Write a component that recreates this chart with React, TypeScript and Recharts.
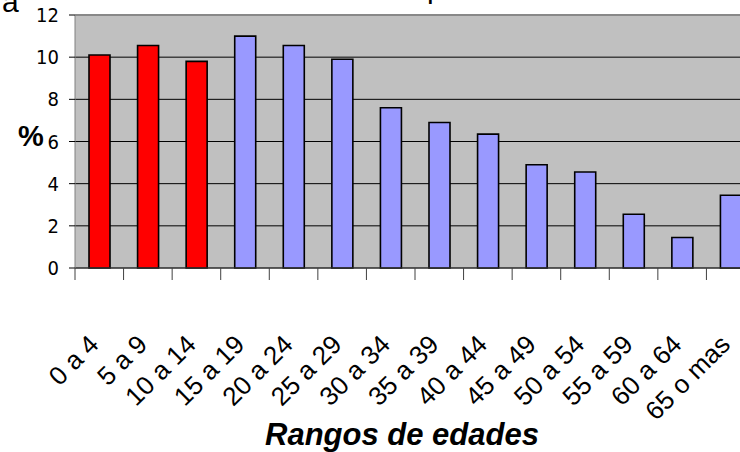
import React from 'react'
import { BarChart, Bar, Cell, XAxis, YAxis, CartesianGrid, ReferenceLine } from 'recharts'

const categories = ['0 a 4', '5 a 9', '10 a 14', '15 a 19', '20 a 24', '25 a 29', '30 a 34', '35 a 39', '40 a 44', '45 a 49', '50 a 54', '55 a 59', '60 a 64', '65 o mas']
const percentages = [10.1, 10.55, 9.8, 11.0, 10.55, 9.9, 7.6, 6.9, 6.35, 4.9, 4.55, 2.55, 1.45, 3.45]
const highlighted = ['0 a 4', '5 a 9', '10 a 14']
const yTicks = [0, 2, 4, 6, 8, 10, 12]

const data = categories.map((rango, i) => ({ rango, valor: percentages[i] }))

const CHART_W = 760
const LEFT = 75
const RIGHT = 5
const HALF_BAND = (CHART_W - LEFT - RIGHT) / categories.length / 2

const XTick = (props: any) => {
  const { x, y, payload } = props
  const half = payload && payload.offset ? payload.offset : HALF_BAND
  const ly = y + 78
  return (
    <g>
      <line x1={x - half} x2={x - half} y1={y} y2={y + 12} stroke="#404040" strokeWidth={1} />
      <text
        x={x + 1}
        y={ly}
        textAnchor="end"
        transform={`rotate(-45 ${x + 1} ${ly})`}
        fontSize={26}
        fontFamily="'Liberation Sans', Arial, sans-serif"
        fill="#000"
      >
        {payload.value}
      </text>
    </g>
  )
}

const App = () => {
  return (
    <div style={{ position: 'absolute', left: 0, top: 0, width: 740, height: 452, overflow: 'hidden', background: '#fff' }}>
      <BarChart
        width={CHART_W}
        height={452}
        data={data}
        margin={{ top: 15, right: RIGHT, left: 0, bottom: 0 }}
        barCategoryGap={0}
      >
        <CartesianGrid vertical={false} fill="#C0C0C0" stroke="#000" strokeWidth={1} />
        <ReferenceLine y={12} stroke="#888" strokeWidth={2} />
        <XAxis
          dataKey="rango"
          interval={0}
          height={184}
          stroke="#404040"
          tickLine={false}
          tickSize={0}
          tickMargin={0}
          tick={<XTick />}
          label={{
            value: 'Rangos de edades',
            position: 'insideBottom',
            offset: 7,
            dx: -13,
            style: { fontSize: 31, fontWeight: 'bold', fontStyle: 'italic', fill: '#000', fontFamily: "'Liberation Sans', Arial, sans-serif" }
          }}
        />
        <YAxis
          width={LEFT}
          domain={[0, 12]}
          ticks={yTicks}
          interval={0}
          stroke="#808080"
          tickSize={6}
          tickMargin={10}
          tickLine={{ stroke: '#000' }}
          tick={{ fontSize: 20, fill: '#000', fontFamily: "'Liberation Sans Narrow', 'DejaVu Sans Condensed', sans-serif" }}
          label={{
            value: '%',
            position: 'insideLeft',
            offset: 18,
            dy: -6,
            style: { fontSize: 29, fontWeight: 'bold', fill: '#000', fontFamily: "'Liberation Sans', Arial, sans-serif" }
          }}
        />
        <Bar dataKey="valor" barSize={21} stroke="#000" strokeWidth={1.6} isAnimationActive={false}>
          {data.map((d) => (
            <Cell key={d.rango} fill={highlighted.includes(d.rango) ? '#FF0000' : '#9999FF'} />
          ))}
        </Bar>
      </BarChart>
      <svg width={740} height={452} style={{ position: 'absolute', left: 0, top: 0, pointerEvents: 'none' }}>
        <text x={2} y={12} fontSize={30} fontFamily="'Liberation Sans', Arial, sans-serif" fill="#000">a</text>
        <text x={427} y={-2} fontSize={30} fontFamily="'Liberation Sans', Arial, sans-serif" fill="#000">p</text>
      </svg>
    </div>
  )
}

export default App
